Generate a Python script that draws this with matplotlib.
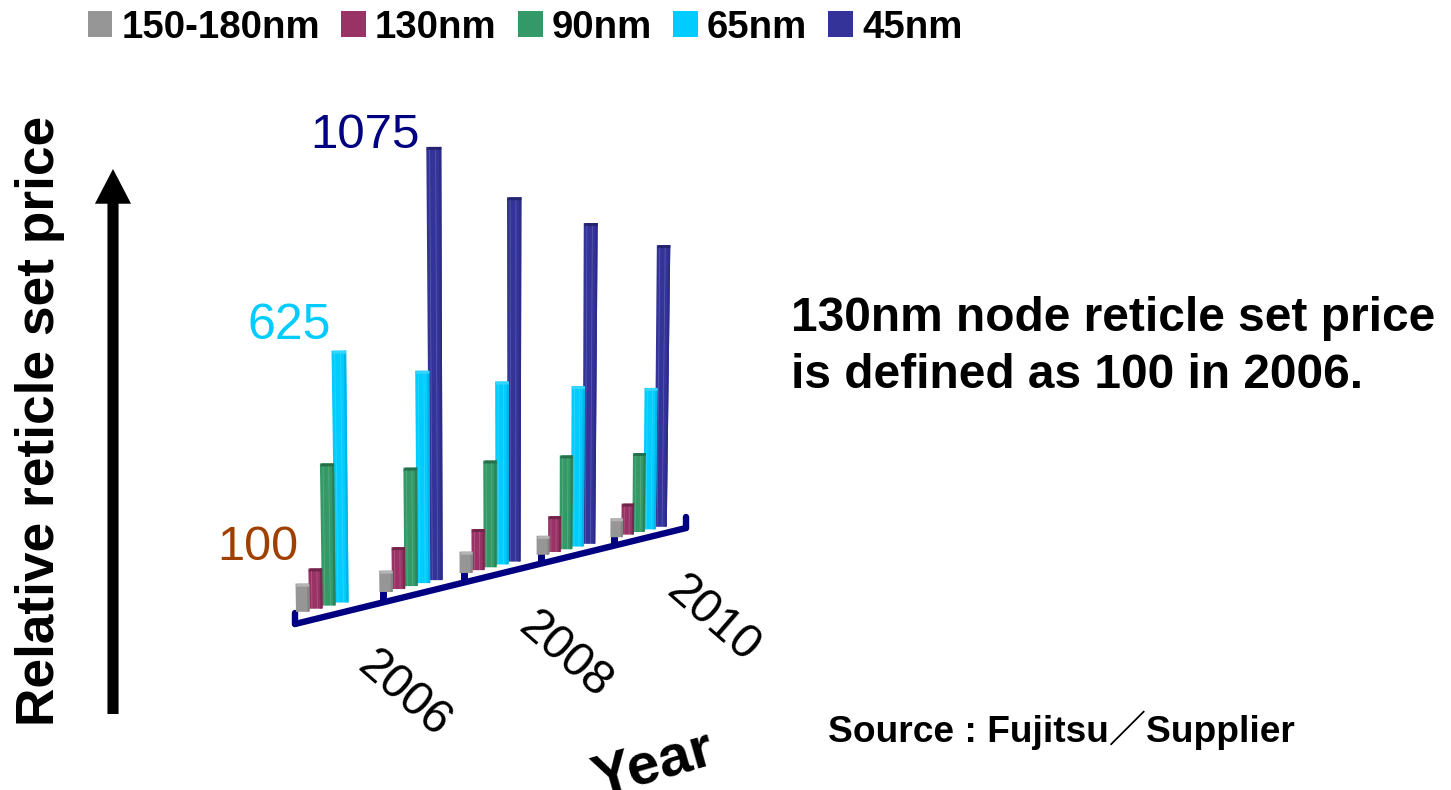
import matplotlib
matplotlib.use("Agg")
import matplotlib.pyplot as plt
from matplotlib.patches import Patch, Polygon

plt.rcParams['font.family'] = ['Liberation Sans', 'Noto Sans CJK JP', 'DejaVu Sans']

W, H = 1451, 790

years = [2006, 2007, 2008, 2009, 2010]
nodes = ['150-180nm', '130nm', '90nm', '65nm', '45nm']
node_colors = ['#969696', '#993366', '#339966', '#00CCFF', '#333399']
side_colors = ['#858585', '#7a2850', '#2b8058', '#00b4e6', '#2c2c88']
top_colors = ['#b4b4b4', '#70244a', '#25704a', '#33d6ff', '#24246e']

price_180 = [70, 53, 53, 47, 47]
price_130 = [100, 104, 102, 89, 77]
price_90 = [353, 294, 265, 233, 196]
price_65 = [625, 527, 454, 398, 351]
price_45 = [None, 1075, 904, 796, 699]
prices = [price_180, price_130, price_90, price_65, price_45]

px_per_unit = 0.403
base_px = 612      # pixel row of the floor under the first bar
base_x = 302
floor_slope = 0.2376
axis_slope = 0.2455
spread = 7e-5      # bars fan out with height, like a view from above
spread_x = 510


def y_of_px(py):
    return (base_px - py) / px_per_unit


def floor(x):
    return floor_slope * (x - base_x) / px_per_unit


def axis_y(x):
    return y_of_px(624 - axis_slope * (x - 295))


def group_x(g):
    # years get closer together towards the back
    return 296 + 85 * g - 1.6 * g * g


def draw_bar(ax, x, value, n, bar_w):
    bot = floor(x + bar_w / 2)
    lean = (x + bar_w / 2 - spread_x) * value * px_per_unit * spread
    top = bot + value
    grow = 1 + value * 0.00012
    xb0, xb1 = x, x + bar_w
    xt0, xt1 = x + lean - bar_w * (grow - 1) / 2, x + lean + bar_w * (1 + (grow - 1) / 2)
    z = 10 - n
    cap = 3 / px_per_unit
    ax.add_patch(Polygon([(xb0, bot), (xb1, bot), (xt1, top), (xt0, top)],
                         closed=True, fc=node_colors[n], ec='none', zorder=z))
    # darker side face on the right of the column
    side = 0.16
    ax.add_patch(Polygon([(xb1 - bar_w * side, bot), (xb1, bot + 0.6 / px_per_unit), (xt1, top), (xt1 - bar_w * side, top)],
                         closed=True, fc=side_colors[n], ec='none', zorder=z))
    # top cap sits inside the column height
    ax.add_patch(Polygon([(xt0, top - cap), (xt0 + 2, top), (xt1, top), (xt1, top - cap)],
                         closed=True, fc=top_colors[n], ec='none', zorder=z))
    # thin light streaks down the front face, the grey blocks stay plain
    if n == 0:
        return
    for f in (0.22, 0.62):
        ax.plot([xb0 + bar_w * f, xt0 + (xt1 - xt0) * f], [bot, top - cap], color='white',
                lw=0.6, alpha=0.18, zorder=z)


fig = plt.figure(figsize=(W / 100, H / 100), dpi=100, facecolor='white')
ax = fig.add_axes([0, 0, 1, 1])
ax.set_xlim(0, W)
ax.set_ylim(y_of_px(H), y_of_px(0))
ax.axis('off')

# tilted year axis with its ticks
axis_color = '#000080'
ax.plot([295, 686], [axis_y(295), axis_y(686)], color=axis_color, lw=4.6, solid_capstyle='round', zorder=2)
ax.plot([295, 295], [axis_y(295), axis_y(295) + 11 / px_per_unit], color=axis_color, lw=4.6, solid_capstyle='round', zorder=2)
ax.plot([686, 686], [axis_y(686), axis_y(686) + 11 / px_per_unit], color=axis_color, lw=4.6, solid_capstyle='round', zorder=2)
for g in range(1, len(years)):
    tx = group_x(g) + 4
    ax.plot([tx, tx], [axis_y(tx), axis_y(tx) + 14 / px_per_unit], color=axis_color, lw=5, solid_capstyle='butt', zorder=2)

for n in reversed(range(len(nodes))):
    for g in range(len(years)):
        if prices[n][g] is None:
            continue
        # columns also get narrower and tighter towards the back
        draw_bar(ax, group_x(g) + (13 - 0.5 * g) * n, prices[n][g], n, 13.6 - 0.3 * g)


def label(x, y, s, **kw):
    kw.setdefault('ha', 'left')
    kw.setdefault('va', 'center')
    return fig.text(x / W, 1 - y / H, s, **kw)


label(217, 548, '100', color='#A04000', fontsize=35)
label(247, 326, '625', color='#00CCFF', fontsize=36)
label(310, 136, '1075', color='#000080', fontsize=35.5)

for yr, cx, cy in [(2006, 404, 694), (2008, 565, 656), (2010, 713, 619)]:
    label(cx, cy, str(yr), fontsize=34.5, rotation=-41, ha='center', rotation_mode='anchor')
label(653, 765, 'Year', fontsize=42, fontweight='bold', rotation=16, ha='center', rotation_mode='anchor')

label(40, 421, 'Relative reticle set price', fontsize=38.3, fontweight='bold', rotation=90, ha='center', rotation_mode='anchor')
label(791, 319, '130nm node reticle set price', fontsize=34.5, fontweight='bold')
label(791, 376, 'is defined as 100 in 2006.', fontsize=34.5, fontweight='bold')
label(828, 730, 'Source : Fujitsu／Supplier', fontsize=26.7, fontweight='bold')

# price arrow next to the axis title
ax.annotate('', xy=(113, y_of_px(169)), xytext=(113, y_of_px(714)),
            arrowprops=dict(width=8, headwidth=26, headlength=25, fc='black', ec='black', lw=0))

handles = [Patch(fc=c, ec='none') for c in node_colors]
fig.legend(handles, nodes, ncol=5, loc='upper left', bbox_to_anchor=(76 / W, 1 + 2 / H), frameon=False,
           prop={'size': 27.6, 'weight': 'bold'}, handlelength=0.65, handleheight=0.65,
           handletextpad=0.235, columnspacing=0.55, borderaxespad=0, borderpad=0.3)

fig.savefig('out.png', dpi=100)
